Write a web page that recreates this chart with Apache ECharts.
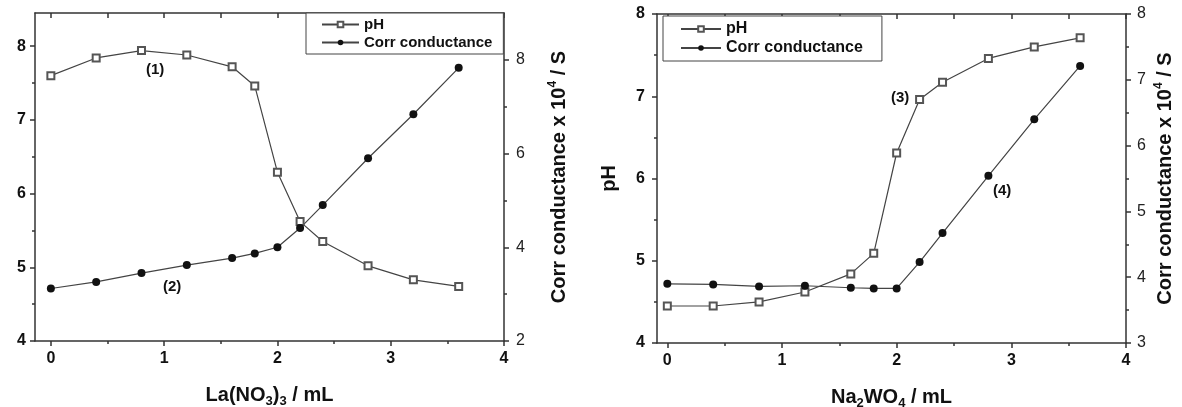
<!DOCTYPE html>
<html>
<head>
<meta charset="utf-8">
<script src="https://cdn.jsdelivr.net/npm/echarts@6/dist/echarts.min.js"></script>
<style>
  html, body { margin: 0; padding: 0; background: #fff; }
  #chart { width: 1182px; height: 407px; }
</style>
</head>
<body>
<div id="chart"></div>
<script>
// 体积 (mL)
const xVals = [0, 0.4, 0.8, 1.2, 1.6, 1.8, 2.0, 2.2, 2.4, 2.8, 3.2, 3.6];
// 左图 La(NO3)3
const phLa = [7.6, 7.84, 7.94, 7.88, 7.72, 7.46, 6.29, 5.62, 5.35, 5.02, 4.83, 4.74];
const condLa = [3.12, 3.26, 3.45, 3.62, 3.77, 3.87, 4.0, 4.41, 4.9, 5.9, 6.84, 7.83];
// 右图 Na2WO4
const phW = [4.45, 4.45, 4.5, 4.62, 4.84, 5.09, 6.31, 6.96, 7.17, 7.46, 7.6, 7.71];
const condW = [3.9, 3.89, 3.86, 3.87, 3.84, 3.83, 3.83, 4.23, 4.67, 5.54, 6.4, 7.21];

// 刻度
const xMajor = [0, 1, 2, 3, 4];
const xMinor = [0.5, 1.5, 2.5, 3.5];
const xTop = [0, 0.5, 1, 1.5, 2, 2.5, 3, 3.5, 4];
const phMajor = [4, 5, 6, 7, 8];
const phMinor = [4.5, 5.5, 6.5, 7.5];
const condMajorLa = [2, 4, 6, 8];
const condMinorLa = [3, 5, 7];
const condMajorW = [3, 4, 5, 6, 7, 8];
const condMinorW = [3.5, 4.5, 5.5, 6.5, 7.5];

const FONT = "'Liberation Sans', Arial, sans-serif";
const AXIS_COLOR = '#333';
const LINE_COLOR = '#444';

const pair = (xs, ys) => xs.map((x, i) => [x, ys[i]]);

const nameStyle = {
  fontFamily: FONT, fontSize: 20, fontWeight: 'bold', color: '#111',
  rich: {
    s: { fontFamily: FONT, fontSize: 13, fontWeight: 'bold', color: '#111', padding: [12, 0, 0, 0] },
    sup: { fontFamily: FONT, fontSize: 12, fontWeight: 'bold', color: '#111', padding: [0, 0, 12, 0] }
  }
};

// x轴: 底部主刻度 + 底部次刻度 + 顶部镜像
function xAxes(grid, min, name) {
  const base = { type: 'value', gridIndex: grid, min: min, max: 4, splitLine: { show: false } };
  return [
    Object.assign({}, base, {
      position: 'bottom',
      name: name,
      nameLocation: 'middle',
      nameGap: 42,
      nameTextStyle: nameStyle,
      axisLine: { onZero: false, lineStyle: { color: AXIS_COLOR, width: 1.5 } },
      axisTick: { customValues: xMajor, length: 5, lineStyle: { color: AXIS_COLOR, width: 1.5 } },
      axisLabel: { customValues: xMajor, fontFamily: FONT, fontSize: 16, fontWeight: 'bold', color: '#111', margin: 10 }
    }),
    Object.assign({}, base, {
      position: 'bottom',
      axisLine: { show: false, onZero: false },
      axisTick: { customValues: xMinor, length: 3, lineStyle: { color: AXIS_COLOR, width: 1.5 } },
      axisLabel: { show: false }
    }),
    Object.assign({}, base, {
      position: 'top',
      axisLine: { onZero: false, lineStyle: { color: AXIS_COLOR, width: 1.5 } },
      axisTick: { customValues: xTop, inside: true, length: 5, lineStyle: { color: AXIS_COLOR, width: 1.5 } },
      axisLabel: { show: false }
    })
  ];
}

// y轴: 主刻度 + 次刻度
function yAxes(grid, pos, min, max, major, minor, opts) {
  const base = { type: 'value', gridIndex: grid, position: pos, min: min, max: max, splitLine: { show: false } };
  return [
    Object.assign({}, base, {
      name: opts.name || '',
      nameLocation: 'middle',
      nameRotate: 90,
      nameGap: opts.nameGap || 30,
      nameTextStyle: nameStyle,
      axisLine: { onZero: false, lineStyle: { color: AXIS_COLOR, width: 1.5 } },
      axisTick: { customValues: major, length: 5, lineStyle: { color: AXIS_COLOR, width: 1.5 } },
      axisLabel: {
        customValues: major, fontFamily: FONT, fontSize: 16,
        fontWeight: opts.labelWeight || 'bold', color: opts.labelColor || '#111', margin: opts.margin || 9
      }
    }),
    Object.assign({}, base, {
      axisLine: { show: false, onZero: false },
      axisTick: { customValues: minor, length: 3, lineStyle: { color: AXIS_COLOR, width: 1.5 } },
      axisLabel: { show: false }
    })
  ];
}

function tag(coord, text) {
  return {
    coord: coord,
    symbol: 'circle',
    symbolSize: 1,
    itemStyle: { color: 'rgba(0,0,0,0)' },
    label: { show: true, position: 'inside', formatter: text, fontFamily: FONT, fontSize: 15, fontWeight: 'bold', color: '#111' }
  };
}

const phStyle = {
  type: 'line', name: 'pH', symbol: 'emptyRect', symbolSize: 7,
  itemStyle: { color: '#555', borderWidth: 1 },
  lineStyle: { color: LINE_COLOR, width: 1.2 }
};
const condStyle = {
  type: 'line', name: 'Corr conductance', symbol: 'circle', symbolSize: 8,
  itemStyle: { color: '#111' },
  lineStyle: { color: LINE_COLOR, width: 1.2 }
};

const legendText = size => ({ fontFamily: FONT, fontSize: size, fontWeight: 'bold', color: '#111' });

const chart = echarts.init(document.getElementById('chart'));
chart.setOption({
  animation: false,
  grid: [
    { left: 35, top: 13, width: 469, height: 328, outerBoundsMode: 'none' },
    { left: 657, top: 14, width: 469, height: 329, outerBoundsMode: 'none' }
  ],
  legend: [
    {
      left: 306, top: 13, orient: 'vertical', itemWidth: 37, itemHeight: 7, itemGap: 3,
      padding: [4, 11, 4, 15], borderColor: '#444', borderWidth: 1, backgroundColor: '#fff',
      textStyle: legendText(15),
      data: ['pH', 'Corr conductance']
    },
    {
      left: 663, top: 16, orient: 'vertical', itemWidth: 40, itemHeight: 7, itemGap: 3,
      padding: [5, 19, 5, 17], borderColor: '#444', borderWidth: 1, backgroundColor: '#fff',
      textStyle: legendText(16),
      data: ['pH', 'Corr conductance']
    }
  ],
  xAxis: [].concat(
    xAxes(0, -0.14, 'La(NO{s|3}){s|3} / mL'),
    xAxes(1, -0.09, 'Na{s|2}WO{s|4} / mL')
  ),
  yAxis: [].concat(
    yAxes(0, 'left', 4, 8.45, phMajor, phMinor, {}),
    yAxes(0, 'right', 2, 9, condMajorLa, condMinorLa, {
      name: 'Corr conductance x 10{sup|4} / S', nameGap: 43, labelWeight: 'normal', labelColor: '#222', margin: 12
    }),
    yAxes(1, 'left', 4, 8, phMajor, phMinor, { name: 'pH', nameGap: 38, margin: 12 }),
    yAxes(1, 'right', 3, 8, condMajorW, condMinorW, {
      name: 'Corr conductance x 10{sup|4} / S', nameGap: 27, labelWeight: 'normal', labelColor: '#222', margin: 11
    })
  ),
  series: [
    Object.assign({}, phStyle, {
      xAxisIndex: 0, yAxisIndex: 0, data: pair(xVals, phLa),
      markPoint: { data: [tag([0.92, 7.68], '(1)')] }
    }),
    Object.assign({}, condStyle, {
      xAxisIndex: 0, yAxisIndex: 2, data: pair(xVals, condLa),
      markPoint: { data: [tag([1.07, 3.15], '(2)')] }
    }),
    Object.assign({}, phStyle, {
      xAxisIndex: 3, yAxisIndex: 4, data: pair(xVals, phW),
      markPoint: { data: [tag([2.03, 6.98], '(3)')] }
    }),
    Object.assign({}, condStyle, {
      xAxisIndex: 3, yAxisIndex: 6, data: pair(xVals, condW),
      markPoint: { data: [tag([2.92, 5.31], '(4)')] }
    })
  ]
});
</script>
</body>
</html>
